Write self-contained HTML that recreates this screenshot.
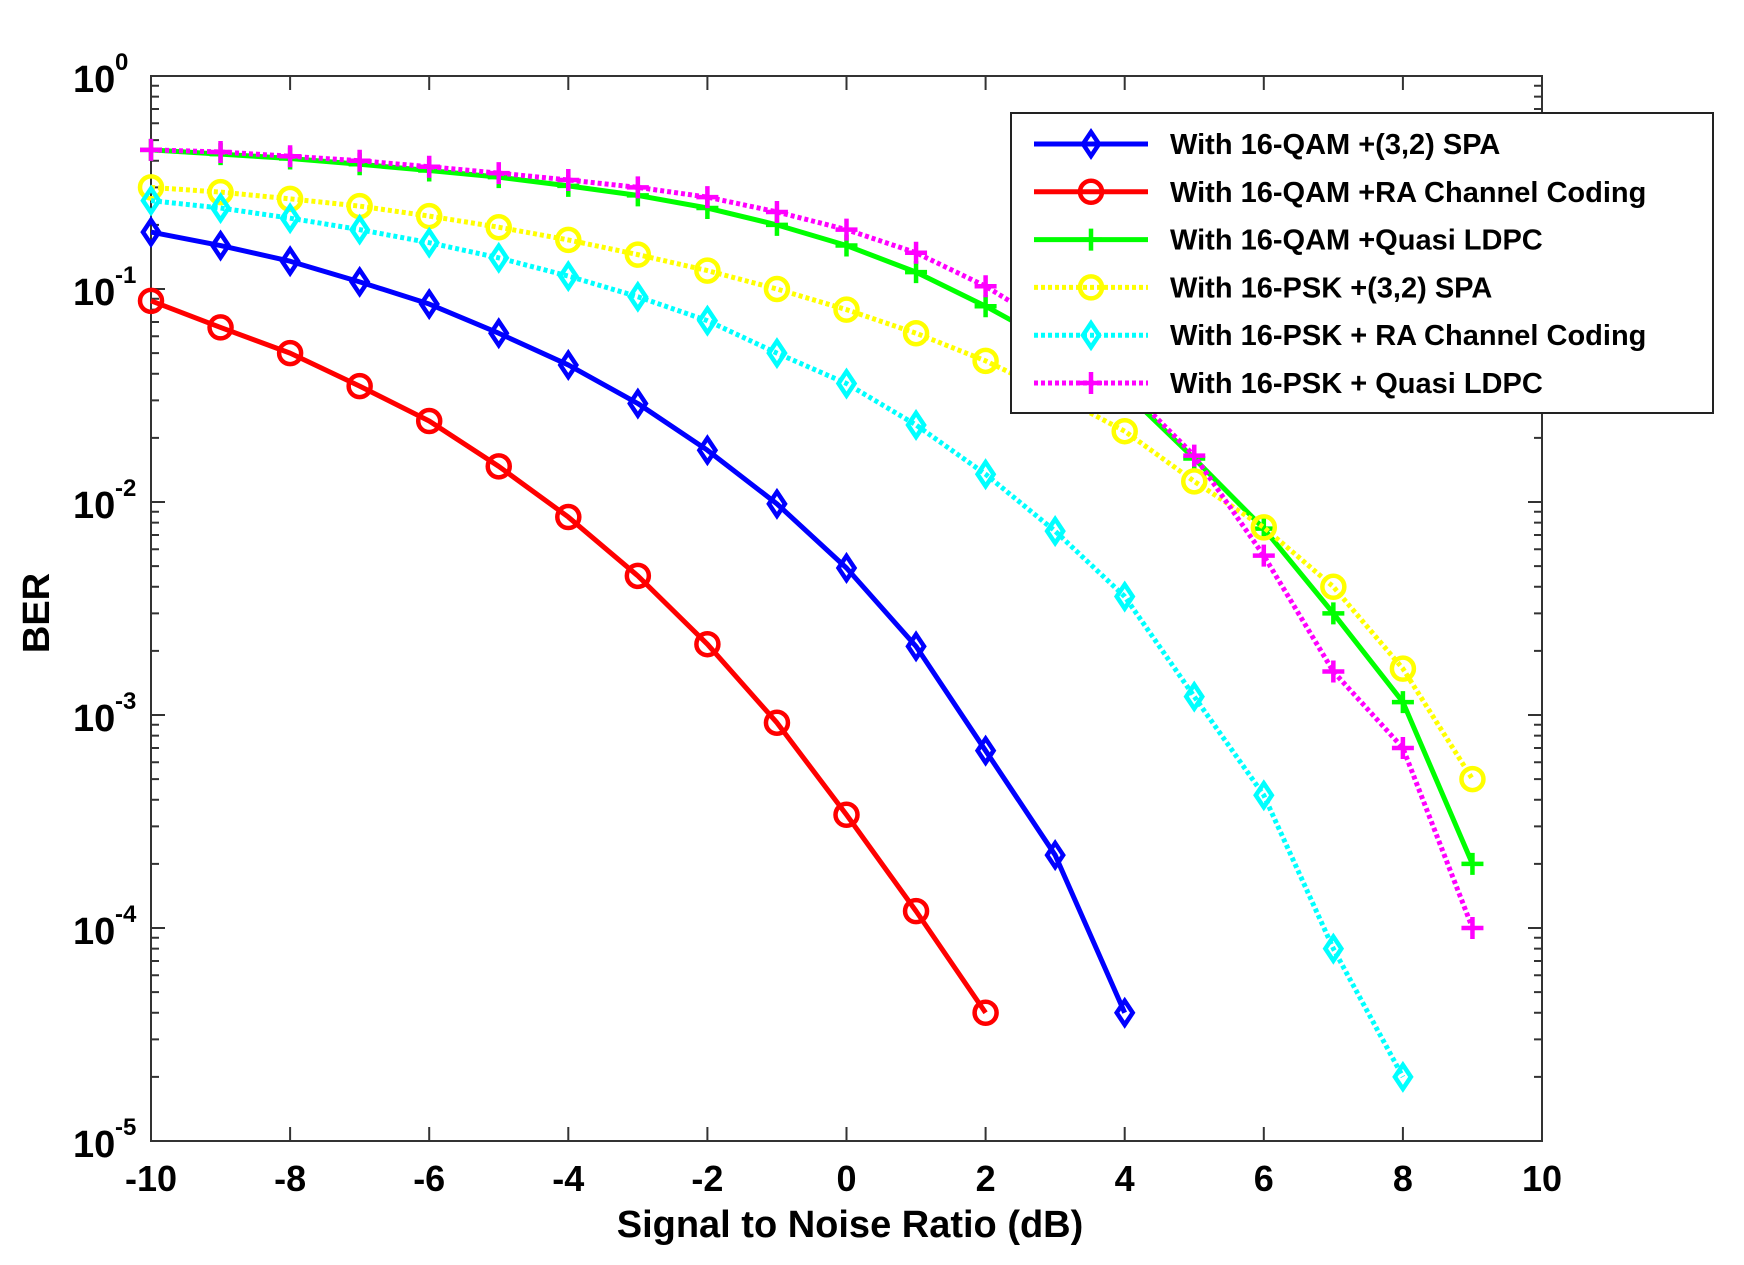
<!DOCTYPE html>
<html><head><meta charset="utf-8"><style>
html,body{margin:0;padding:0;background:#fff;}
svg{display:block;}
text{font-family:"Liberation Sans",Arial,sans-serif;font-weight:bold;fill:#000;}
</style></head><body>
<svg id="s" width="1744" height="1265" viewBox="0 0 1744 1265" xmlns="http://www.w3.org/2000/svg"></svg>
<script>
const S=document.getElementById('s');
const L=151,R=1542,T=76,B=1141;
const X=v=>L+(v+10)*(R-L)/20;
const Y=v=>T+(-Math.log10(v))*(B-T)/5;
let h='';
h+=`<rect x="${L}" y="${T}" width="${R-L}" height="${B-T}" fill="#fff" stroke="#333" stroke-width="2"/>`;
for(let v=-10;v<=10;v+=2){const x=X(v);
 h+=`<line x1="${x}" y1="${B}" x2="${x}" y2="${B-14}" stroke="#333" stroke-width="2"/><line x1="${x}" y1="${T}" x2="${x}" y2="${T+14}" stroke="#333" stroke-width="2"/>`;
 h+=`<text x="${x}" y="${B+50}" font-size="36" text-anchor="middle">${v}</text>`;}
for(let e=0;e>=-5;e--){const y=Y(Math.pow(10,e));
 h+=`<line x1="${L}" y1="${y}" x2="${L+14}" y2="${y}" stroke="#333" stroke-width="2"/><line x1="${R}" y1="${y}" x2="${R-14}" y2="${y}" stroke="#333" stroke-width="2"/>`;
 h+=`<text x="${L-78}" y="${y+16}" font-size="38">10</text><text x="${L-36}" y="${y-6}" font-size="24">${e}</text>`;
 if(e>-5)for(let m=2;m<=9;m++){const yy=Y(m*Math.pow(10,e-1));
  h+=`<line x1="${L}" y1="${yy}" x2="${L+8}" y2="${yy}" stroke="#333" stroke-width="2"/><line x1="${R}" y1="${yy}" x2="${R-8}" y2="${yy}" stroke="#333" stroke-width="2"/>`;}}
h+=`<text x="850" y="1237" font-size="38" text-anchor="middle">Signal to Noise Ratio (dB)</text>`;
h+=`<text transform="translate(49,613) rotate(-90)" font-size="38" text-anchor="middle">BER</text>`;
const series=[
 {c:'#0000ff',m:'d',d:false,v:[0.185,0.16,0.135,0.108,0.085,0.062,0.044,0.029,0.0175,0.0098,0.0049,0.0021,0.00068,0.00022,0.00004]},
 {c:'#ff0000',m:'o',d:false,v:[0.088,0.066,0.05,0.035,0.024,0.0147,0.0085,0.0045,0.00215,0.00092,0.00034,0.00012,0.00004]},
 {c:'#00ff00',m:'+',d:false,v:[0.45,0.43,0.41,0.385,0.36,0.335,0.305,0.275,0.24,0.2,0.16,0.12,0.083,0.055,0.033,0.016,0.0075,0.003,0.00115,0.0002]},
 {c:'#ffff00',m:'o',d:true,v:[0.3,0.285,0.265,0.245,0.22,0.195,0.17,0.145,0.122,0.1,0.08,0.062,0.046,0.032,0.0215,0.0125,0.0076,0.004,0.00165,0.0005]},
 {c:'#00ffff',m:'d',d:true,v:[0.26,0.24,0.215,0.19,0.165,0.14,0.115,0.092,0.071,0.05,0.036,0.023,0.0135,0.0073,0.0036,0.00122,0.00042,0.00008,0.00002]},
 {c:'#ff00ff',m:'+',d:true,v:[0.45,0.44,0.42,0.4,0.375,0.35,0.325,0.3,0.27,0.23,0.19,0.148,0.103,0.065,0.035,0.0165,0.0056,0.0016,0.0007,0.0001]}];
function mk(m,x,y,c){
 if(m==='d')return `<polygon points="${x},${y-12} ${x+8},${y} ${x},${y+12} ${x-8},${y}" fill="none" stroke="${c}" stroke-width="4.5"/>`;
 if(m==='o')return `<circle cx="${x}" cy="${y}" r="11" fill="none" stroke="${c}" stroke-width="4.5"/>`;
 return `<path d="M${x-11},${y}H${x+11}M${x},${y-11}V${y+11}" stroke="${c}" stroke-width="4.5"/>`;}
for(const s of series){
 const pts=s.v.map((v,i)=>[X(-10+i),Y(v)]);
 h+=`<polyline points="${pts.map(p=>p.join(',')).join(' ')}" fill="none" stroke="${s.c}" stroke-width="5" stroke-linejoin="round" ${s.d?'stroke-dasharray="4 3"':''}/>`;
 for(const p of pts)h+=mk(s.m,p[0],p[1],s.c);}
const names=['With 16-QAM +(3,2) SPA','With 16-QAM +RA Channel Coding','With 16-QAM +Quasi LDPC','With 16-PSK +(3,2) SPA','With 16-PSK + RA Channel Coding','With 16-PSK + Quasi LDPC'];
h+=`<rect x="1011" y="113" width="702" height="300" fill="#fff" stroke="#222" stroke-width="2"/>`;
names.forEach((n,i)=>{const y=144+i*47.8,s=series[i];
 h+=`<line x1="1034" y1="${y}" x2="1148" y2="${y}" stroke="${s.c}" stroke-width="5" ${s.d?'stroke-dasharray="4 3"':''}/>`+mk(s.m,1091,y,s.c);
 h+=`<text x="1170" y="${y+10}" font-size="29">${n}</text>`;});
S.innerHTML=h;
</script>
</body></html>
